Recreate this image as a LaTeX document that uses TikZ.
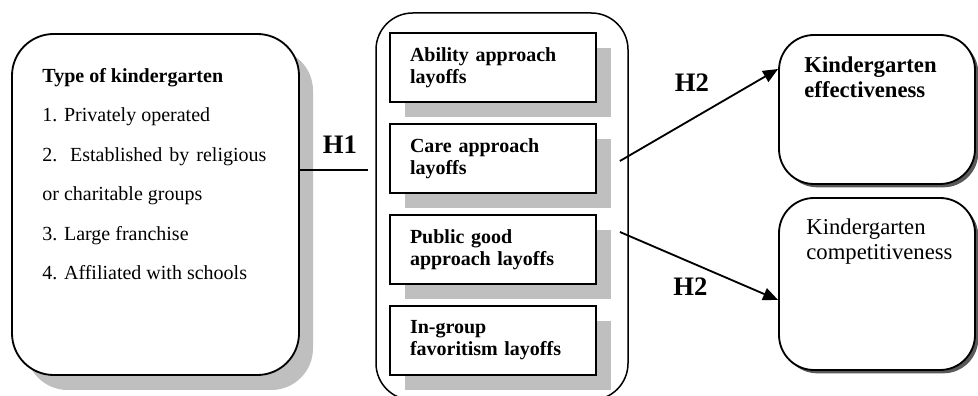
\documentclass[tikz,border=0pt]{standalone}
\usepackage{fontspec}
\setmainfont{Liberation Serif}
\usetikzlibrary{arrows.meta,shadows,positioning}

\tikzset{
    typebox/.style={draw, line width=1.1pt, fill=white, rounded corners=25pt,
        minimum width=172.2pt, minimum height=204.6pt,
        drop shadow={shadow xshift=8.4pt, shadow yshift=-9pt, fill=black!25, opacity=1}},
    groupbox/.style={draw, line width=0.9pt, fill=white, rounded corners=22pt,
        minimum width=151.2pt, minimum height=232.2pt},
    layoffbox/.style={draw, line width=1.1pt, fill=white, text width=99.6pt,
        inner xsep=12pt, minimum height=41.4pt, align=left,
        font=\fontsize{12}{13.2}\selectfont\bfseries,
        drop shadow={shadow xshift=9pt, shadow yshift=-9pt, fill=black!25, opacity=1}},
    outbox/.style={draw, line width=1.1pt, fill=white, rounded corners=21pt,
        minimum width=117.6pt,
        drop shadow={shadow xshift=2pt, shadow yshift=-2pt, fill=black!65, opacity=1}},
    outtext/.style={anchor=north west, inner sep=0pt, align=left,
        font=\fontsize{13.6}{15}\selectfont},
    hlabel/.style={anchor=base, inner sep=0pt, font=\fontsize{16}{19}\selectfont\bfseries},
    link/.style={line width=1.1pt},
    conn/.style={line width=1.1pt, -{Triangle[length=9pt, width=7.5pt]}}
}

\begin{document}
\begin{tikzpicture}[x=0.6pt, y=-0.6pt]
    \useasboundingbox (0, 0) rectangle (978, 396);

    % independent variable
    \node[typebox] (kind) at (155.5, 204.5) {};
    \node[anchor=north west, inner sep=0pt, text width=134.4pt, align=justify,
        font=\fontsize{12}{23.7}\selectfont] (kindtext)
        at ([shift={(31, 35)}]kind.north west)
        {{\bfseries Type of kindergarten}\\
         1. Privately operated\\
         2. Established by religious or charitable groups\\
         3. Large franchise\\
         4. Affiliated with schools};

    % layoff types
    \node[groupbox] (layoffs) at (502, 206.5) {};
    \foreach \name/\txt [count=\i] in {ability/{Ability approach\\layoffs},
            care/{Care approach\\layoffs},
            public/{Public good\\approach layoffs},
            ingroup/{In-group\\favoritism layoffs}}
        \node[layoffbox] (\name) at (493, 67.5 + 91*\i - 91) {\txt};

    % outcomes
    \node[outbox, minimum height=89.4pt] (eff) at (877, 109.5) {};
    \node[outtext] (efftext) at ([shift={(26, 22.5)}]eff.north west)
        {\bfseries Kindergarten\\\bfseries effectiveness};
    \node[outbox, minimum height=103.2pt] (comp) at (877, 284) {};
    \node[outtext] (comptext) at ([shift={(28, 21.5)}]comp.north west)
        {Kindergarten\\competitiveness};

    % hypotheses
    \coordinate (h1end) at (368, 170);
    \draw[link] ([shift={(0, -34.5)}]kind.east) -- (h1end);
    \node[hlabel] (h1) at (340, 154) {H1};

    \draw[conn] ([shift={(23, 2.5)}]care.east) -- ([shift={(0, -40.5)}]eff.west);
    \draw[conn] ([shift={(23, -17.5)}]public.east) -- ([shift={(0, 16)}]comp.west);
    \node[hlabel] (h2a) at (692, 92) {H2};
    \node[hlabel] (h2b) at (690.5, 296) {H2};
\end{tikzpicture}
\end{document}
